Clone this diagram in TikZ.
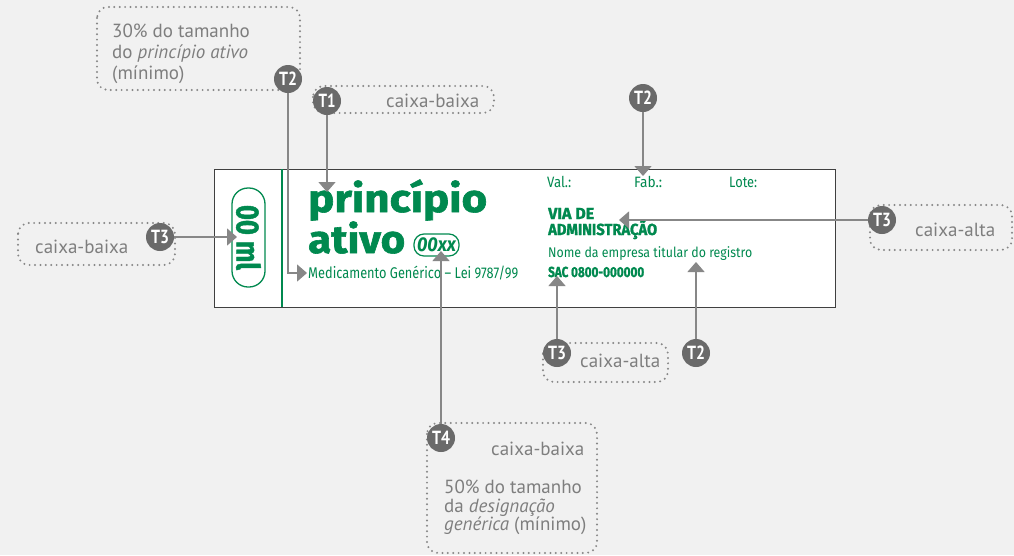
\documentclass[tikz,border=0pt]{standalone}
\usepackage{fontspec}
\usepackage{graphicx}
\setmainfont{PT Sans}
\newfontfamily\gfont[BoldFeatures={FakeBold=1.5}]{Fira Sans}
\usetikzlibrary{arrows.meta}
\definecolor{bgc}{HTML}{F1F1F1}
\definecolor{gc}{HTML}{00894F}
\definecolor{ac}{HTML}{878787}
\definecolor{cc}{HTML}{6A6A6A}
\definecolor{tc}{HTML}{7E7E7E}
\newcommand{\wfit}[2]{\resizebox{#1}{\height}{#2}}
\begin{document}
\begin{tikzpicture}[x=1pt,y=-1pt,
  tag/.style={circle,fill=cc,text=white,inner sep=0pt,minimum size=28pt,font=\bfseries\fontsize{19}{19}\selectfont},
  dotbox/.style={draw=ac,line width=2.2pt,dash pattern=on 0pt off 5.4pt,line cap=round,rounded corners=11pt},
  conn/.style={draw=ac,line width=1.4pt,-{Triangle[width=17pt,length=10pt]}},
  anno/.style={text=tc,font=\fontsize{19}{21}\selectfont,inner sep=0pt,anchor=base west},
  gtxt/.style={text=gc,inner sep=0pt,anchor=base west},
]
\fill[bgc] (0,0) rectangle (1014,555);
\path[use as bounding box] (0,0) rectangle (1014,555);

% dotted annotation boxes
\draw[dotbox] (97,7) rectangle (300,90);
\draw[dotbox] (313,86) rectangle (494,113);
\draw[dotbox] (18,223) rectangle (175,265);
\draw[dotbox] (870,205) rectangle (1012,250);
\draw[dotbox] (543,343) rectangle (668,382);
\draw[dotbox] (427,423) rectangle (597,553);

% annotation texts
\node[anno] (a1) at (112,37) {30\% do tamanho};
\node[anno] (a2) at (112,58) {do \textit{princípio ativo}};
\node[anno] (a3) at (112,79) {(mínimo)};
\node[anno] (a4) at (386,107) {caixa-baixa};
\node[anno] (a5) at (35,253) {caixa-baixa};
\node[anno] (a6) at (915,236) {caixa-alta};
\node[anno] (a7) at (580,367) {caixa-alta};
\node[anno] (a8) at (491,455) {caixa-baixa};
\node[anno] (a9) at (444,493) {50\% do tamanho};
\node[anno] (a10) at (444,512) {da \textit{designação}};
\node[anno] (a11) at (444,530) {\textit{genérica} (mínimo)};

% label
\draw[draw=black!75,line width=1pt,fill=white] (214,169) rectangle (835,307);
\draw[gc,line width=2.2pt] (282,169) -- (282,307);
\node[draw=gc,line width=1.3pt,rounded corners=16pt,minimum width=99pt,minimum height=33pt,rotate=-90,text=gc,inner sep=0pt] (vol) at (248.5,237.5)
  {\wfit{65pt}{\gfont\bfseries\fontsize{32}{32}\selectfont 00 ml}};

\node[gtxt] (pa1) at (308,212) {\wfit{179pt}{\gfont\bfseries\fontsize{39}{39}\selectfont princípio}};
\node[gtxt] (pa2) at (308,253) {\wfit{97pt}{\gfont\bfseries\fontsize{39}{39}\selectfont ativo}};
\node[draw=gc,line width=1.2pt,rounded corners=10pt,minimum width=45pt,minimum height=22pt,inner sep=0pt,text=gc] (dg) at (436.5,245)
  {\wfit{39pt}{\gfont\bfseries\itshape\fontsize{20}{20}\selectfont 00xx}};
\node[gtxt] (med) at (308,278) {\wfit{210pt}{\gfont\fontsize{15.5}{15.5}\selectfont Medicamento Genérico – Lei 9787/99}};

\node[gtxt] (val) at (547,187) {\wfit{24pt}{\gfont\fontsize{15}{15}\selectfont Val.:}};
\node[gtxt] (fab) at (634,187) {\wfit{28pt}{\gfont\fontsize{15}{15}\selectfont Fab.:}};
\node[gtxt] (lote) at (729,187) {\wfit{28pt}{\gfont\fontsize{15}{15}\selectfont Lote:}};
\node[gtxt] (via1) at (548,219) {\wfit{46pt}{\gfont\bfseries\fontsize{16}{16}\selectfont VIA DE}};
\node[gtxt] (via2) at (548,235) {\wfit{109pt}{\gfont\bfseries\fontsize{16}{16}\selectfont ADMINISTRAÇÃO}};
\node[gtxt] (nome) at (548,257) {\wfit{204pt}{\gfont\fontsize{14}{14}\selectfont Nome da empresa titular do registro}};
\node[gtxt] (sac) at (548,277) {\wfit{96pt}{\gfont\bfseries\fontsize{14.5}{14.5}\selectfont SAC 0800-000000}};

% tags
\node[tag] (t2a) at (288,79) {\wfit{18pt}{T2}};
\node[tag] (t1) at (327,101) {\wfit{17pt}{T1}};
\node[tag] (t2b) at (643,98) {\wfit{18pt}{T2}};
\node[tag] (t3a) at (160,237) {\wfit{18pt}{T3}};
\node[tag] (t3b) at (882,220) {\wfit{18pt}{T3}};
\node[tag] (t3c) at (557,353) {\wfit{18pt}{T3}};
\node[tag] (t2c) at (696,353) {\wfit{18pt}{T2}};
\node[tag] (t4) at (441,438) {\wfit{18pt}{T4}};

% arrow targets
\coordinate (p1) at (307,273);
\coordinate (p2) at (327,192);
\coordinate (p3) at (643,176);
\coordinate (p4) at (237,237);
\coordinate (p5) at (619,220);
\coordinate (p6) at (557,276);
\coordinate (p7) at (696,262);
\coordinate (p8) at (441,251);

\draw[conn] (t2a) |- (p1);
\draw[conn] (t1) -- (p2);
\draw[conn] (t2b) -- (p3);
\draw[conn] (t3a) -- (p4);
\draw[conn] (t3b) -- (p5);
\draw[conn] (t3c) -- (p6);
\draw[conn] (t2c) -- (p7);
\draw[conn] (t4) -- (p8);
\end{tikzpicture}
\end{document}
